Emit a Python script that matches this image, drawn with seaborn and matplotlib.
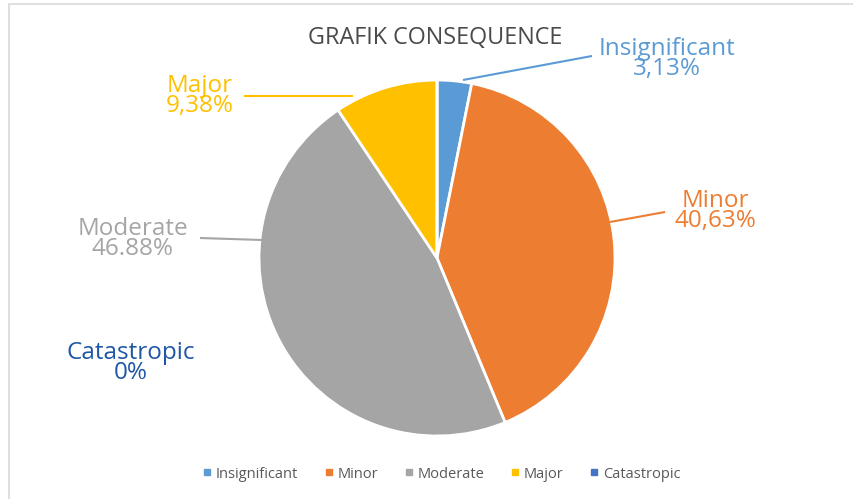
"""
Pie chart of consequence levels (Excel-like styling)
"""

import matplotlib.pyplot as plt
import seaborn as sns
from matplotlib.lines import Line2D
from matplotlib.patches import Rectangle

sns.set_theme(style='white')
plt.rcParams['font.family'] = ['Open Sans', 'DejaVu Sans']

# Data
categories = ['Insignificant', 'Minor', 'Moderate', 'Major', 'Catastropic']
values = [3.13, 40.63, 46.88, 9.38, 0.0]
pct_labels = ['3,13%', '40,63%', '46.88%', '9,38%', '0%']
title = 'GRAFIK CONSEQUENCE'

colors = ['#5B9BD5', '#ED7D31', '#A5A5A5', '#FFC000', '#4472C4']
text_colors = ['#5B9BD5', '#ED7D31', '#A5A5A5', '#FFC000', '#1F56A8']

# Layout (figure pixels, origin top-left)
W, H = 854, 499
CX, CY, R = 437, 258, 178
label_pos = [(667, 59), (715, 211), (133, 239), (200, 96), (131, 363)]
leaders = [((592, 56), (463, 80)), ((665, 212), (610, 222)),
           ((200, 238), (262, 240)), ((244, 96), (353, 96)), None]


def px(x, y):
    # figure pixel -> pie data coordinates
    return (x - CX) / R, (CY - y) / R


fig = plt.figure(figsize=(W / 100, H / 100), dpi=100)
ax = fig.add_axes([(CX - R) / W, (H - CY - R) / H, 2 * R / W, 2 * R / H])

wedges, _ = ax.pie(values, colors=colors, startangle=90, counterclock=False,
                   radius=1, wedgeprops=dict(edgecolor='white', linewidth=2))
ax.set_xlim(-1, 1)
ax.set_ylim(-1, 1)
ax.set_aspect('equal')
ax.axis('off')

# Data labels with leader lines
for i, cat in enumerate(categories):
    lx, ly = px(*label_pos[i])
    ax.text(lx, ly, f'{cat}\n{pct_labels[i]}', ha='center', va='center',
            fontsize=17.5, color=text_colors[i], linespacing=0.82, clip_on=False)
    if leaders[i] is not None:
        (x0, y0), (x1, y1) = leaders[i]
        a, b = px(x0, y0)
        c, d = px(x1, y1)
        ax.plot([a, c], [b, d], color=colors[i], lw=1.5, clip_on=False,
                solid_capstyle='butt')

# Title
fig.text(435 / W, 1 - 38 / H, title, ha='center', va='center',
         fontsize=16.8, color='#4a4a4a')

# Legend
handles = [Line2D([], [], marker='s', linestyle='', markersize=5,
                  color=c) for c in colors]
fig.legend(handles, categories, loc='center', bbox_to_anchor=(441 / W, 1 - 474 / H),
           ncol=5, frameon=False, fontsize=10.5, labelcolor='#595959',
           handletextpad=0.2, columnspacing=1.7, handlelength=0.8)

# Chart frame
fig.patches.append(Rectangle((9 / W, -0.05), 1.2, 1 - 4 / H + 0.05,
                             transform=fig.transFigure, fill=False,
                             edgecolor='#D9D9D9', lw=1.2))

fig.savefig('out.png', dpi=100)
